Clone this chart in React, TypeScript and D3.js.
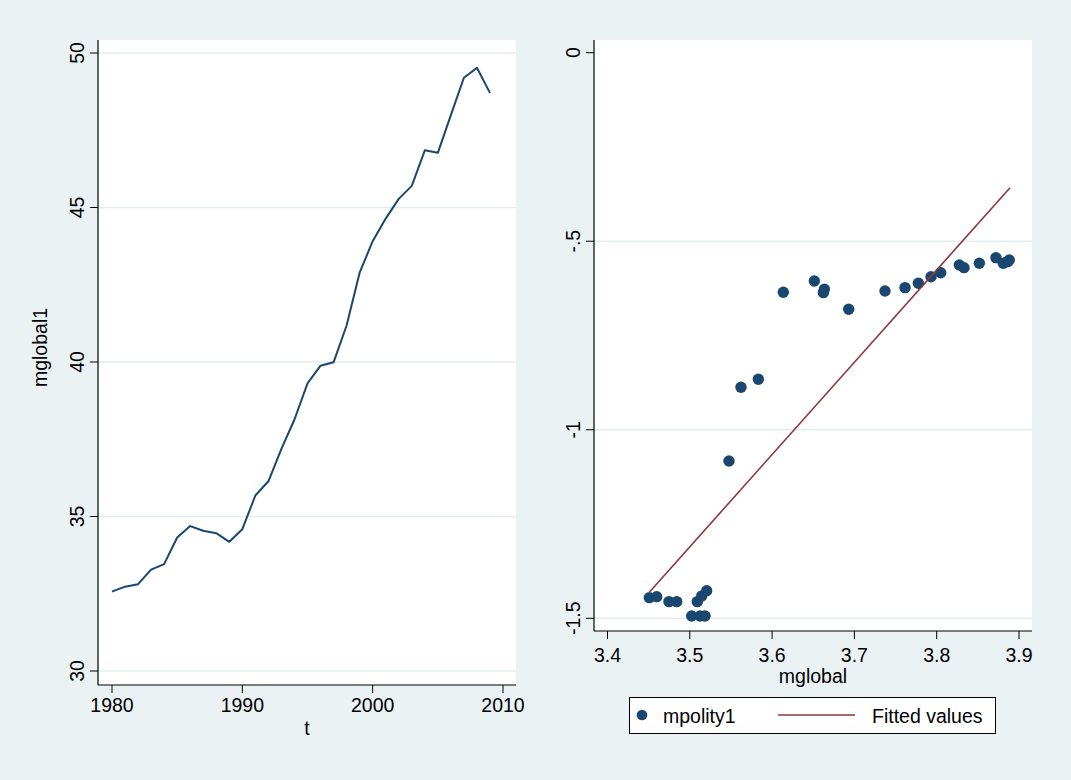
import * as d3 from 'd3';

// left panel: mglobal1 over time
const years = [1980, 1981, 1982, 1983, 1984, 1985, 1986, 1987, 1988, 1989, 1990, 1991, 1992, 1993, 1994,
  1995, 1996, 1997, 1998, 1999, 2000, 2001, 2002, 2003, 2004, 2005, 2006, 2007, 2008, 2009];
const mglobal1 = [32.57, 32.73, 32.81, 33.28, 33.46, 34.32, 34.69, 34.54, 34.46, 34.18, 34.59, 35.68, 36.14,
  37.19, 38.14, 39.31, 39.88, 39.99, 41.18, 42.89, 43.91, 44.64, 45.28, 45.7, 46.85, 46.77, 47.99, 49.2, 49.52, 48.71];
const leftXTicks = [1980, 1990, 2000, 2010];
const leftYTicks = [30, 35, 40, 45, 50];

// right panel: mpolity1 vs mglobal
const mglobal = [3.4508, 3.4598, 3.4747, 3.4841, 3.5023, 3.5124, 3.5185, 3.5091, 3.5145, 3.5205,
  3.5476, 3.5622, 3.5833, 3.6136, 3.6513, 3.6635, 3.6623, 3.6931, 3.7372, 3.7615,
  3.7777, 3.7931, 3.8049, 3.8275, 3.8332, 3.8518, 3.872, 3.8809, 3.8882, 3.8862];
const mpolity1 = [-1.4453, -1.4426, -1.4558, -1.4558, -1.494, -1.494, -1.494, -1.4558, -1.441, -1.4267,
  -1.0828, -0.8873, -0.8661, -0.6354, -0.6054, -0.6275, -0.6364, -0.6805, -0.632, -0.6231,
  -0.6116, -0.594, -0.5834, -0.563, -0.5701, -0.5585, -0.5436, -0.5585, -0.5497, -0.5540];
const fitX = [3.4508, 3.8891];
const fitY = [-1.431, -0.358];
const rightXTicks = [3.4, 3.5, 3.6, 3.7, 3.8, 3.9];
const rightYTicks = [0, -0.5, -1, -1.5];
const rightYLabels = ['0', '-.5', '-1', '-1.5'];

const BG = '#eaf2f3';
const GRID = '#e3ecee';
const NAVY = '#1a476f';
const MAROON = '#90353b';
const FONT = "'Liberation Sans', Arial, sans-serif";
const FS = 19.5;

export default function App() {
  // left plot region
  const L = { x0: 98, x1: 516, y0: 40, y1: 685 };
  const lx = d3.scaleLinear().domain([1980, 2010]).range([112, 503]);
  const ly = d3.scaleLinear().domain([30, 50]).range([671, 53]);
  const linePath = d3.line<number>()
    .x((_, i) => lx(years[i]))
    .y(d => ly(d))(mglobal1);

  // right plot region
  const R = { x0: 594, x1: 1032, y0: 40, y1: 631 };
  const rx = d3.scaleLinear().domain([3.4, 3.9]).range([607.5, 1019]);
  const ry = d3.scaleLinear().domain([-1.5, 0]).range([618.3, 52.7]);
  const fitPath = d3.line<number>()
    .x((_, i) => rx(fitX[i]))
    .y(d => ry(d))(fitY);

  const tick = 8;

  return (
    <svg width={1071} height={780} style={{ position: 'absolute', left: 0, top: 0, display: 'block' }}
      fontFamily={FONT} fontSize={FS}>
      <rect x={0} y={0} width={1071} height={780} fill={BG} />

      {/* left panel */}
      <rect x={L.x0} y={L.y0} width={L.x1 - L.x0} height={L.y1 - L.y0} fill="#fff" />
      {leftYTicks.map(t => (
        <line key={t} x1={L.x0} x2={L.x1} y1={ly(t)} y2={ly(t)} stroke={GRID} strokeWidth={1.5} />
      ))}
      <path d={linePath ?? ''} fill="none" stroke={NAVY} strokeWidth={2} strokeLinejoin="round" />
      <line x1={L.x0} x2={L.x0} y1={L.y0} y2={L.y1} stroke="#000" strokeWidth={1.2} />
      <line x1={L.x0} x2={L.x1} y1={L.y1} y2={L.y1} stroke="#000" strokeWidth={1.2} />
      {leftYTicks.map(t => (
        <g key={t}>
          <line x1={L.x0 - tick} x2={L.x0} y1={ly(t)} y2={ly(t)} stroke="#000" />
          <text transform={`translate(${L.x0 - 21},${ly(t)}) rotate(-90)`} textAnchor="middle"
            dominantBaseline="central">{t}</text>
        </g>
      ))}
      {leftXTicks.map(t => (
        <g key={t}>
          <line x1={lx(t)} x2={lx(t)} y1={L.y1} y2={L.y1 + tick} stroke="#000" />
          <text x={lx(t)} y={L.y1 + 27} textAnchor="middle">{t}</text>
        </g>
      ))}
      <text x={(L.x0 + L.x1) / 2} y={735} textAnchor="middle">t</text>
      <text transform={`translate(40,${(L.y0 + L.y1) / 2 - 15}) rotate(-90)`} textAnchor="middle"
        dominantBaseline="central">mglobal1</text>

      {/* right panel */}
      <rect x={R.x0} y={R.y0} width={R.x1 - R.x0} height={R.y1 - R.y0} fill="#fff" />
      {rightYTicks.filter(t => t !== 0).map(t => (
        <line key={t} x1={R.x0} x2={R.x1} y1={ry(t)} y2={ry(t)} stroke={GRID} strokeWidth={1.5} />
      ))}
      {mglobal.map((v, i) => (
        <circle key={i} cx={rx(v)} cy={ry(mpolity1[i])} r={5.7} fill={NAVY} />
      ))}
      <path d={fitPath ?? ''} fill="none" stroke={MAROON} strokeWidth={1.6} />
      <line x1={R.x0} x2={R.x0} y1={R.y0} y2={R.y1} stroke="#000" strokeWidth={1.2} />
      <line x1={R.x0} x2={R.x1} y1={R.y1} y2={R.y1} stroke="#000" strokeWidth={1.2} />
      {rightYTicks.map((t, i) => (
        <g key={t}>
          <line x1={R.x0 - tick} x2={R.x0} y1={ry(t)} y2={ry(t)} stroke="#000" />
          <text transform={`translate(${R.x0 - 21},${ry(t)}) rotate(-90)`} textAnchor="middle"
            dominantBaseline="central">{rightYLabels[i]}</text>
        </g>
      ))}
      {rightXTicks.map(t => (
        <g key={t}>
          <line x1={rx(t)} x2={rx(t)} y1={R.y1} y2={R.y1 + tick} stroke="#000" />
          <text x={rx(t)} y={R.y1 + 31} textAnchor="middle">{t.toFixed(1)}</text>
        </g>
      ))}
      <text x={(R.x0 + R.x1) / 2} y={683} textAnchor="middle">mglobal</text>

      {/* legend */}
      <rect x={629.5} y={697.5} width={366} height={36} fill="#fff" stroke="#000" strokeWidth={1} />
      <circle cx={642} cy={715} r={5.3} fill={NAVY} />
      <text x={663} y={716} dominantBaseline="central">mpolity1</text>
      <line x1={778} x2={855} y1={715} y2={715} stroke={MAROON} strokeWidth={1.6} />
      <text x={872} y={716} dominantBaseline="central">Fitted values</text>
    </svg>
  );
}
